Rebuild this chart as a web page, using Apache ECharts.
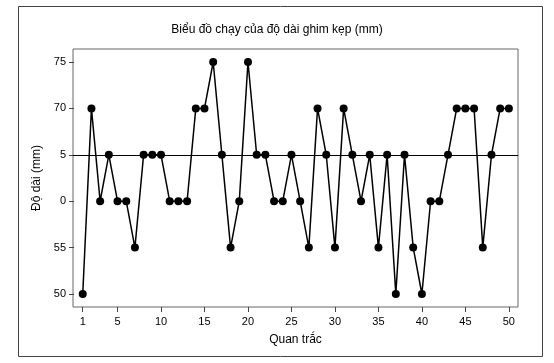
<!DOCTYPE html>
<html><head><meta charset="utf-8">
<script src="https://cdn.jsdelivr.net/npm/echarts@6/dist/echarts.min.js"></script>
<style>html,body{margin:0;padding:0;background:#fff}#c{width:554px;height:363px}</style>
</head><body><div id="c"></div>
<script>
const observations = Array.from({length: 50}, (_, i) => i + 1);
const lengths = [50,70,60,65,60,60,55,65,65,65,
                 60,60,60,70,70,75,65,55,60,75,
                 65,65,60,60,65,60,55,70,65,55,
                 70,65,60,65,55,65,50,65,55,50,
                 60,60,65,70,70,70,55,65,70,70];
const centerLine = 65;
const xTicks = [1,5,10,15,20,25,30,35,40,45,50];
const yTicks = [50,55,60,65,70,75];
const yTickLabels = {50:'50',55:'55',60:'0',65:'5',70:'70',75:'75'};
const titleText = 'Biểu đồ chạy của độ dài ghim kẹp (mm)';
const xName = 'Quan trắc';
const yName = 'Độ dài (mm)';

const chart = echarts.init(document.getElementById('c'), null, {renderer:'canvas'});
const font = 'Liberation Sans, Arial, sans-serif';
chart.setOption({
  animation: false,
  backgroundColor: '#fff',
  graphic: [{
    type: 'rect', left: 18, top: 6, z: -10,
    shape: {width: 524, height: 350},
    style: {fill: '#fff', stroke: '#444', lineWidth: 1}
  }],
  title: {
    text: titleText, left: 272, top: 19, textAlign: 'center',
    textStyle: {fontFamily: font, fontSize: 12, fontWeight: 'normal', color: '#000'}
  },
  grid: {left: 73, top: 49, width: 445, height: 258, show: true,
         borderColor: '#666', borderWidth: 1, backgroundColor: 'transparent'},
  xAxis: {
    type: 'value', min: -0.12, max: 51.05,
    name: xName, nameLocation: 'middle', nameGap: 27,
    nameTextStyle: {fontFamily: font, fontSize: 12, color: '#000'},
    axisLine: {show: false},
    splitLine: {show: false},
    axisTick: {show: true, inside: false, length: 5, customValues: xTicks, lineStyle: {color: '#444'}},
    axisLabel: {customValues: xTicks, fontFamily: font, fontSize: 11, color: '#000', margin: 9}
  },
  yAxis: {
    type: 'value', min: 48.6, max: 76.4,
    name: yName, nameLocation: 'middle', nameGap: 28,
    nameTextStyle: {fontFamily: font, fontSize: 12, color: '#000'},
    axisLine: {show: false},
    splitLine: {show: false},
    axisTick: {show: true, inside: false, length: 5, customValues: yTicks, lineStyle: {color: '#444'}},
    axisLabel: {customValues: yTicks, fontFamily: font, fontSize: 11, color: '#000', margin: 7,
      formatter: v => yTickLabels[Math.round(v)] ?? ''}
  },
  series: [{
    type: 'line',
    data: observations.map((x, i) => [x, lengths[i]]),
    symbol: 'circle', symbolSize: 8,
    itemStyle: {color: '#000'},
    lineStyle: {color: '#000', width: 1.5},
    markLine: {
      silent: true, symbol: 'none', label: {show: false},
      lineStyle: {color: '#000', width: 1, type: 'solid'},
      data: [{yAxis: centerLine}]
    }
  }]
});
</script></body></html>
